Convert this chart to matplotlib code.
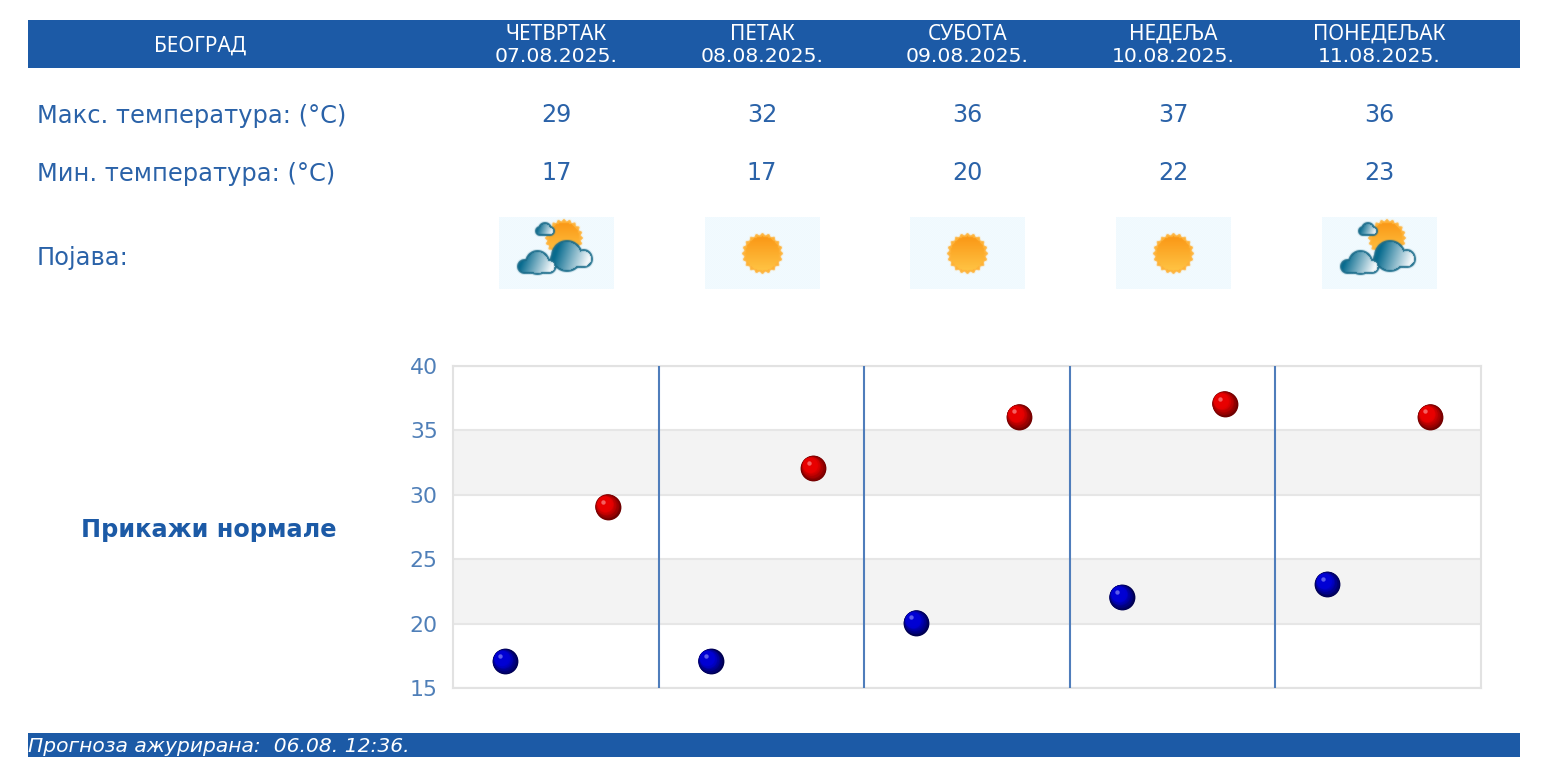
import matplotlib
matplotlib.use("Agg")
import matplotlib.pyplot as plt
import matplotlib.transforms as mtrans
import numpy as np

city = "БЕОГРАД"
days = ["ЧЕТВРТАК", "ПЕТАК", "СУБОТА", "НЕДЕЉА", "ПОНЕДЕЉАК"]
dates = ["07.08.2025.", "08.08.2025.", "09.08.2025.", "10.08.2025.", "11.08.2025."]
tmax = [29, 32, 36, 37, 36]
tmin = [17, 17, 20, 22, 23]
icons = ["cloudy", "sun", "sun", "sun", "cloudy"]
yticks = [15, 20, 25, 30, 35, 40]
bands = [(20, 25), (30, 35)]

BLUE = "#1c5aa6"
TEXT = "#2a62a8"
TICK = "#4f7fb8"
W, H = 1550, 769
col_x = [556.5, 762, 967.5, 1173, 1379]


def make_sun(cx, cy, R, xx, yy):
    # spiky disc with a vertical orange gradient
    dx, dy = xx - cx, yy - cy
    th = np.arctan2(dy, dx)
    r = np.hypot(dx, dy)
    edge = R + 1.0 * np.cos(20 * th)
    mask = np.clip(edge - r + 0.5, 0, 1)
    t = np.clip((dy + R) / (2 * R), 0, 1)[..., None]
    rgb = (1 - t) * np.array([0.98, 0.58, 0.07]) + t * np.array([1.0, 0.78, 0.28])
    rim = (r > R - 2.5)[..., None]
    rgb = np.where(rim, np.array([1.0, 0.70, 0.22]), rgb)
    return rgb, mask


def make_cloud(circles, xx, yy):
    # union of circles, dark outline, teal to white gradient inside
    dist = np.min([np.hypot(xx - c[0], yy - c[1]) - c[2] for c in circles], axis=0)
    mask = np.clip(0.5 - dist, 0, 1)
    x0 = min(c[0] - c[2] for c in circles)
    x1 = max(c[0] + c[2] for c in circles)
    y0 = min(c[1] - c[2] for c in circles)
    y1 = max(c[1] + c[2] for c in circles)
    t = np.clip((xx - x0) / (x1 - x0) * 1.25 + (yy - y0) / (y1 - y0) * 0.3 - 0.3, 0, 1)[..., None]
    rgb = (1 - t) * np.array([0.03, 0.42, 0.56]) + t * np.array([0.95, 0.97, 0.98])
    rgb = np.where((dist > -2.0)[..., None], np.array([0.10, 0.42, 0.54]), rgb)
    return rgb, mask


def capsule(x0, x1, y, r):
    # row of circles that makes a flat cloud bottom
    return [(x, y, r) for x in np.linspace(x0, x1, 12)]


def make_icon(kind):
    # icon is 115 x 72 px, sampled 1:1 in its own pixel coordinates
    xx, yy = np.meshgrid(np.arange(115) + 0.5, np.arange(72) + 0.5)
    img = np.ones((72, 115, 3)) * np.array([0.935, 0.975, 0.995])
    checker = ((np.arange(115)[None, :] + np.arange(72)[:, None]) % 2 == 0)[..., None]
    img = np.where(checker, img, np.array([0.955, 0.985, 1.0]))
    layers = []
    if kind == "sun":
        layers.append(make_sun(57.5, 36.5, 19.5, xx, yy))
    else:
        layers.append(make_sun(65, 21, 18, xx, yy))
        layers.append(make_cloud([(46, 12, 7)] + capsule(41, 51, 14, 5), xx, yy))
        layers.append(make_cloud([(68, 39, 16), (84.7, 41, 9)] + capsule(60, 85, 42, 9), xx, yy))
        layers.append(make_cloud([(38.5, 45.5, 12.5), (25.5, 49.5, 7.5), (50, 50, 7)]
                                 + capsule(26, 50, 49.5, 7.5), xx, yy))
    for rgb, mask in layers:
        img = img * (1 - mask[..., None]) + rgb * mask[..., None]
    # slight softening, the reference icon is a scaled up bitmap
    soft = sum(np.roll(np.roll(img, i, 0), j, 1) for i in (-1, 0, 1) for j in (-1, 0, 1)) / 9
    return 0.5 * img + 0.5 * soft


def draw_balls(ax, x, y, dark, mid, light):
    # discs shrinking towards the upper left, to look like a shaded sphere
    trans = ax.figure.dpi_scale_trans
    base = ax.transData + mtrans.ScaledTranslation(0.4 / 72, 0.6 / 72, trans)
    R = 9.3
    steps = 16
    dark_rgb = np.array(matplotlib.colors.to_rgb(dark))
    mid_rgb = np.array(matplotlib.colors.to_rgb(mid))
    for i in range(steps):
        f = i / (steps - 1)
        r = R * (1 - 0.75 * f)
        off = (R - r) * 0.6
        ax.scatter(x, y, s=(2 * r) ** 2, color=dark_rgb + (mid_rgb - dark_rgb) * min(f * 1.8, 1),
                   linewidths=0, zorder=5 + f, clip_on=False,
                   transform=base + mtrans.ScaledTranslation(-off / 72, off / 72, trans))
    glint = mtrans.ScaledTranslation(-3.4 / 72, 3.8 / 72, trans)
    ax.scatter(x, y, s=10, color=light, alpha=0.55, linewidths=0, zorder=7, clip_on=False,
               transform=base + glint)


fig = plt.figure(figsize=(W / 100, H / 100), dpi=100, facecolor="white")

# page layer in pixel coordinates
bg = fig.add_axes([0, 0, 1, 1])
bg.set_xlim(0, W)
bg.set_ylim(H, 0)
bg.axis("off")

bg.fill_between([28, 1520], 20, 68, color=BLUE, linewidth=0)
bg.fill_between([28, 1520], 733, 757, color=BLUE, linewidth=0)

bg.text(199.5, 46, city, color="white", fontsize=15.0, ha="center", va="center", family="Noto Sans")
for x, day, date in zip(col_x, days, dates):
    bg.text(x, 34.5, day, color="white", fontsize=15.0, ha="center", va="center", family="Noto Sans")
    bg.text(x, 57, date, color="white", fontsize=14.7, ha="center", va="center")

bg.text(37, 116, "Макс. температура: (°C)", color=TEXT, fontsize=17.4, va="center")
bg.text(37, 174.5, "Мин. температура: (°C)", color=TEXT, fontsize=17.4, va="center")
bg.text(37, 258, "Појава:", color=TEXT, fontsize=17.4, va="center")

for x, a, b, kind in zip(col_x, tmax, tmin, icons):
    bg.text(x, 114.5, str(a), color=TEXT, fontsize=17.2, ha="center", va="center")
    bg.text(x, 173.5, str(b), color=TEXT, fontsize=17.2, ha="center", va="center")
    bg.imshow(make_icon(kind), extent=(x - 57.5, x + 57.5, 289, 217), aspect="auto",
              interpolation="bilinear", zorder=2)
bg.set_xlim(0, W)
bg.set_ylim(H, 0)

bg.text(208.5, 529.5, "Прикажи нормале", color=BLUE, fontsize=17.3, weight="bold", ha="center", va="center")
bg.text(28, 746.5, "Прогноза ажурирана:  06.08. 12:36.", color="white", fontsize=14.6,
        style="italic", va="center")

# temperature chart
ax = fig.add_axes([453 / W, 1 - 688 / H, (1481 - 453) / W, (688 - 366) / H], facecolor="white")
ax.set_xlim(0, len(days))
ax.set_ylim(15, 40)
for low, high in bands:
    ax.axhspan(low, high, color="#f3f3f3", linewidth=0, zorder=0)
ax.set_yticks(yticks)
ax.set_xticks([])
ax.grid(axis="y", color="#e6e6e6", linewidth=1.5, zorder=1)
ax.set_axisbelow(True)
ax.tick_params(axis="y", length=0, pad=11, labelsize=15.8, labelcolor=TICK)
for spine in ax.spines.values():
    spine.set_color("#e2e2e2")
    spine.set_linewidth(1.5)
ax.vlines(range(1, len(days)), 15, 40, color="#4f7dbb", linewidth=1.5, zorder=3)

pos = np.arange(len(days))
draw_balls(ax, pos + 0.75, tmax, "#700000", "#e80000", "#ffb0b0")
draw_balls(ax, pos + 0.25, tmin, "#000050", "#0000d4", "#a8a8ff")

fig.savefig("out.png", dpi=100)
